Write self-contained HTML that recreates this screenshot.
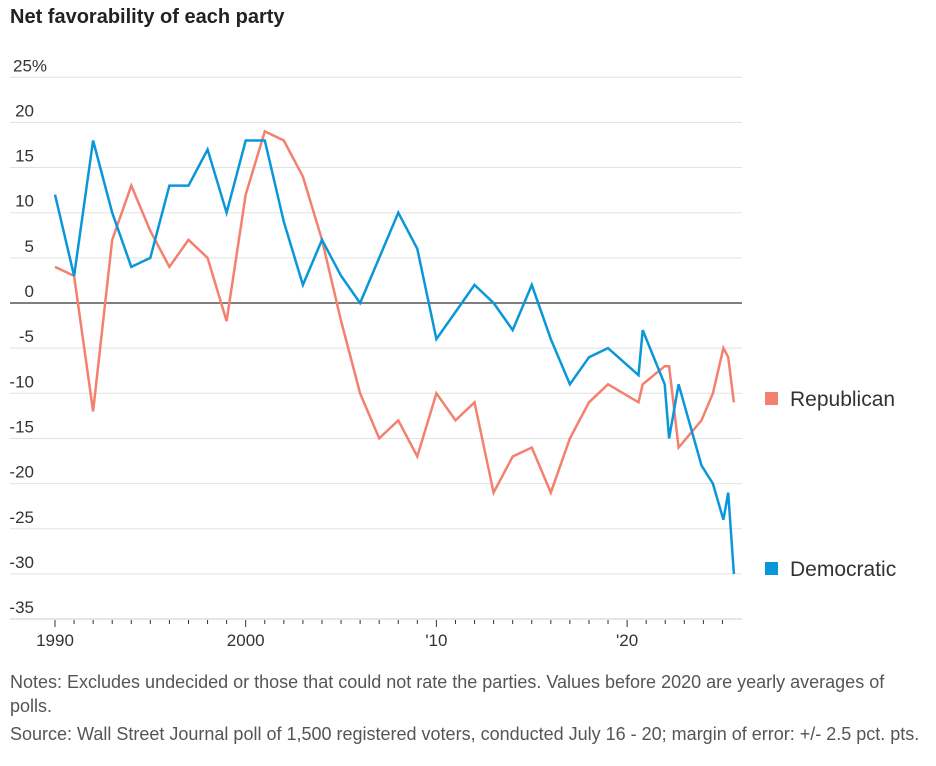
<!DOCTYPE html>
<html><head><meta charset="utf-8"><style>
body{margin:0;width:936px;height:766px;background:#fff;overflow:hidden;font-family:"Liberation Sans",sans-serif;position:relative}
.t{position:absolute;left:10px;top:6px;font-size:20px;font-weight:bold;color:#222}
.n{position:absolute;left:10px;font-size:18px;line-height:24px;color:#555;white-space:nowrap}
</style></head><body>
<div class="t">Net favorability of each party</div>
<svg id="c" width="936" height="660" style="position:absolute;left:0;top:0"></svg>
<div class="n" style="top:670px">Notes: Excludes undecided or those that could not rate the parties. Values before 2020 are yearly averages of<br>polls.</div>
<div class="n" style="top:722px">Source: Wall Street Journal poll of 1,500 registered voters, conducted July 16 - 20; margin of error: +/- 2.5 pct. pts.</div>
<script>
const yTicks=[25,20,15,10,5,0,-5,-10,-15,-20,-25,-30,-35];
const xLabels=[[1990,"1990"],[2000,"2000"],[2010,"'10"],[2020,"'20"]];
const years=[1990,1991,1992,1993,1994,1995,1996,1997,1998,1999,2000,2001,2002,2003,2004,2005,2006,2007,2008,2009,2010,2011,2012,2013,2014,2015,2016,2017,2018,2019,2020.6,2020.82,2021.97,2022.2,2022.7,2023.9,2024.5,2025.05,2025.3,2025.6];
const dem=[12,3,18,10,4,5,13,13,17,10,18,18,9,2,7,3,0,5,10,6,-4,-1,2,0,-3,2,-4,-9,-6,-5,-8,-3,-9,-15,-9,-18,-20,-24,-21,-30];
const rep=[4,3,-12,7,13,8,4,7,5,-2,12,19,18,14,7,-2,-10,-15,-13,-17,-10,-13,-11,-21,-17,-16,-21,-15,-11,-9,-11,-9,-7,-7,-16,-13,-10,-5,-6,-11];
const svg=document.getElementById('c');const NS='http://www.w3.org/2000/svg';
const x=v=>55+(v-1990)*19.07, y=v=>303-v*9.03;
function mk(t,a){const e=document.createElementNS(NS,t);for(const k in a)e.setAttribute(k,a[k]);svg.appendChild(e);return e;}
yTicks.forEach(v=>{
 const g=mk('line',{x1:10,x2:742,y1:y(v),y2:y(v),stroke:v===0?'#333':(v===-35?'#ccc':'#e2e2e2'),'stroke-width':v===0?1.3:1});
 
 
 const t=mk('text',{x:v===25?13:34,y:y(v)-6,'text-anchor':v===25?'start':'end','font-size':17,fill:'#333','font-family':'Liberation Sans'});
 t.textContent=v===25?'25%':String(v);
 
 
});
for(let yr=1990;yr<=2025;yr++){const big=yr%10===0;
 const tk=mk('line',{x1:x(yr),x2:x(yr),y1:620,y2:big?627:624,stroke:'#333','stroke-width':1});
 
 }
xLabels.forEach(([v,l])=>{const t=mk('text',{x:x(v),y:646,'text-anchor':'middle','font-size':17,fill:'#333','font-family':'Liberation Sans'});t.textContent=l;
 
 });
function line(vals,col,name){const d=vals.map((v,i)=>(i?'L':'M')+x(years[i]).toFixed(1)+','+y(v).toFixed(1)).join('');
 const p=mk('path',{d:d,fill:'none',stroke:col,'stroke-width':2.5,'stroke-linejoin':'miter'});
 
 }
line(rep,'#f4806f','republican-line');
line(dem,'#0a97d9','democratic-line');
[['Republican','#f4806f',398],['Democratic','#0a97d9',568]].forEach(([n,c,yy])=>{
 const r=mk('rect',{x:765,y:yy-6,width:13,height:13,fill:c});
 
 
 const t=mk('text',{x:790,y:yy+8,'font-size':21,fill:'#333','font-family':'Liberation Sans'});t.textContent=n;
 
 });
</script>
</body></html>
